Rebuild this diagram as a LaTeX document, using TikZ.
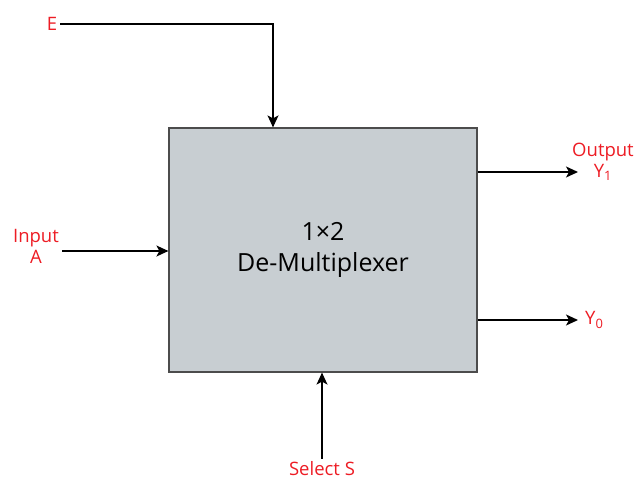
\documentclass[tikz,border=0pt]{standalone}
\usepackage{fontspec}
\setmainfont{Open Sans}
\usetikzlibrary{arrows.meta, positioning}
\definecolor{labelred}{RGB}{237,28,36}
\definecolor{boxgray}{RGB}{200,206,210}
\tikzstyle{block} = [rectangle, minimum width=308pt, minimum height=244pt, align=center, draw=black!70, fill=boxgray, line width=1.2pt, font={\fontsize{25pt}{31pt}\selectfont}]
\tikzstyle{sig} = [text=labelred, align=center, inner sep=3pt, font={\fontsize{18.5pt}{21pt}\selectfont}]
\tikzstyle{arrow} = [line width=1.4pt, -{Stealth[length=12pt, width=11pt, inset=3pt]}]

\begin{document}
\begin{tikzpicture}[x=1pt, y=-1pt]
    \useasboundingbox (0,0) rectangle (640,479);
    \node (demux) [block] at (323,250) {1×2\\De-Multiplexer};

    \node (enable) [sig] at (52,24) {E};
    \node (input) [sig] at (36,246) {Input\\A};
    \node (yone) [sig] at (603,162) {Output\\Y\textsubscript{1}};
    \node (select) [sig] at (322,469) {Select S};

    \coordinate (ecorner) at (273,24);
    \coordinate (y1end) at (578,172);
    \coordinate (y0end) at (578,320);

    \node (yzero) [sig, right=4pt of y0end, anchor=west] {Y\textsubscript{0}};

    \draw [arrow] (enable.east) -- (ecorner) -- (ecorner |- demux.north);
    \draw [arrow] ([yshift=-5pt]input.east) -- ([yshift=-5pt]input.east -| demux.west);
    \draw [arrow] (y1end -| demux.east) -- (y1end);
    \draw [arrow] (y0end -| demux.east) -- (y0end);
    \draw [arrow] (select.north) -- (select.north |- demux.south);
\end{tikzpicture}
\end{document}
